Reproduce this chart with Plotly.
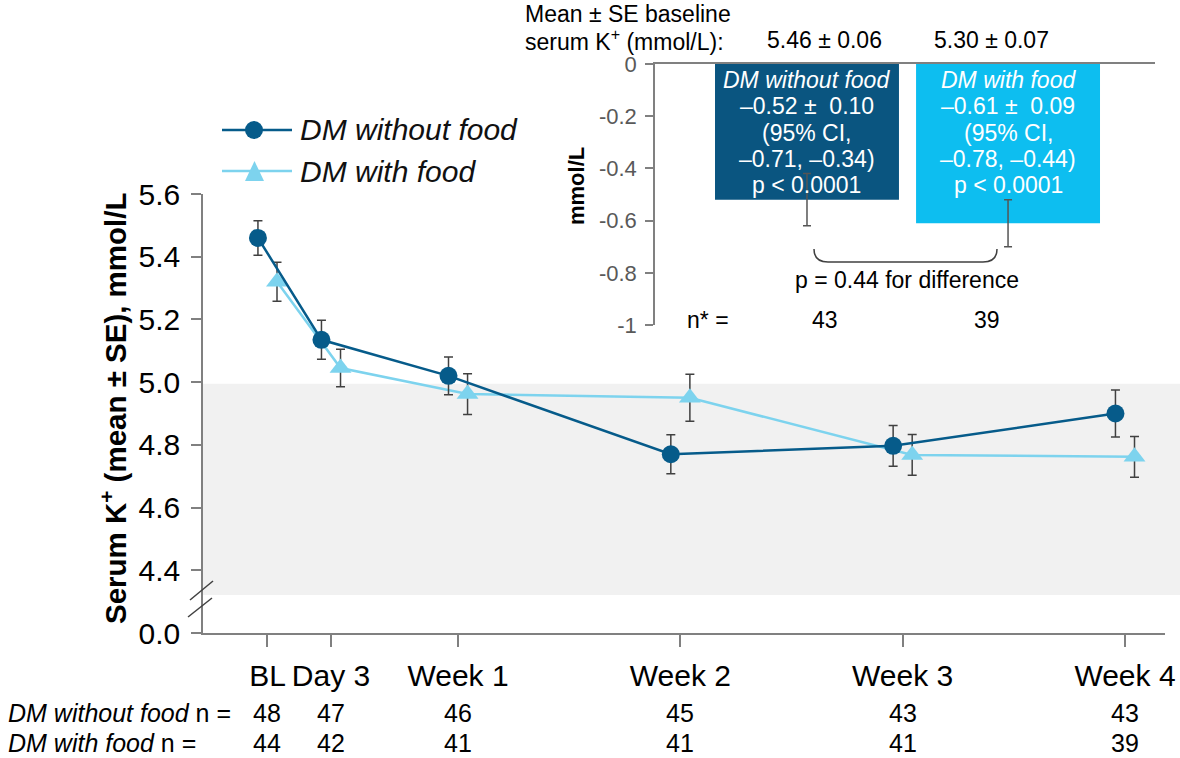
import plotly.graph_objects as go

# ---------------- data ----------------
visits = ["BL", "Day 3", "Week 1", "Week 2", "Week 3", "Week 4"]
visit_day = [1, 3, 7, 14, 21, 28]

without_food_mean = [5.46, 5.135, 5.02, 4.77, 4.797, 4.90]
without_food_se = [0.055, 0.062, 0.06, 0.062, 0.065, 0.075]
with_food_mean = [5.32, 5.045, 4.962, 4.95, 4.768, 4.762]
with_food_se = [0.062, 0.06, 0.065, 0.075, 0.065, 0.065]

n_without_food = [48, 47, 46, 45, 43, 43]
n_with_food = [44, 42, 41, 41, 41, 39]

groups = ["DM without food", "DM with food"]
baseline_mean = [5.46, 5.30]
baseline_se = [0.06, 0.07]
change_mean = [-0.52, -0.61]
change_se = [0.10, 0.09]
change_ci = [(-0.71, -0.34), (-0.78, -0.44)]
change_p = ["p &lt; 0.0001", "p &lt; 0.0001"]
n_final = [43, 39]
p_diff = 0.44

main_ticks = [4.2, 4.4, 4.6, 4.8, 5.0, 5.2, 5.4, 5.6]
main_ticktext = ["0.0", "4.4", "4.6", "4.8", "5.0", "5.2", "5.4", "5.6"]
inset_ticks = [0, -0.2, -0.4, -0.6, -0.8, -1]
inset_ticktext = ["0", "-0.2", "-0.4", "-0.6", "-0.8", "-1"]

# ---------------- style ----------------
W, H = 1180, 758
DARK = "#065B8A"
LIGHT = "#7DD3EE"
BAR_DARK = "#0A5580"
BAR_LIGHT = "#0DBEF0"
AXC = "#808080"
ERRC = "#404040"
FONT = "Liberation Sans, Arial, sans-serif"
DODGE = 0.3
MF = 30   # main font
IF = 23   # inset font
NF = 25   # n-table font


def px(X):
    return X / W


def py(Y):
    return 1 - Y / H


fig = go.Figure()

# main line traces
fig.add_trace(go.Scatter(
    x=[d + DODGE for d in visit_day], y=with_food_mean,
    error_y=dict(type="data", array=with_food_se, color=ERRC, thickness=1.5, width=4.5),
    mode="lines+markers", name=groups[1],
    line=dict(color=LIGHT, width=2.5),
    marker=dict(symbol="triangle-up", size=19, color=LIGHT),
    xaxis="x", yaxis="y", showlegend=False))
fig.add_trace(go.Scatter(
    x=[d - DODGE for d in visit_day], y=without_food_mean,
    error_y=dict(type="data", array=without_food_se, color=ERRC, thickness=1.5, width=4.5),
    mode="lines+markers", name=groups[0],
    line=dict(color=DARK, width=2.5),
    marker=dict(symbol="circle", size=18, color=DARK),
    xaxis="x", yaxis="y", showlegend=False))

# inset bars
fig.add_trace(go.Bar(
    x=[0, 1], y=change_mean, width=0.915,
    marker=dict(color=[BAR_DARK, BAR_LIGHT], line=dict(width=0)),
    error_y=dict(type="data", array=change_se, color="#555555", thickness=1.5, width=4),
    xaxis="x2", yaxis="y2", showlegend=False))

shapes = []
annotations = []

# shaded normal range band
shapes.append(dict(type="rect", xref="paper", yref="y", x0=px(203), x1=1.0,
                   y0=4.321, y1=4.995, fillcolor="#F1F1F1", line=dict(width=0), layer="below"))
# axis break marks
for (x0, y0, x1, y1) in [(190, 600, 213, 581), (188, 617, 212, 598)]:
    shapes.append(dict(type="line", xref="paper", yref="paper", x0=px(x0), y0=py(y0),
                       x1=px(x1), y1=py(y1), line=dict(color=ERRC, width=1.5)))

# manual legend
for i, (col, sym, yy) in enumerate([(DARK, "circle", 130), (LIGHT, "tri", 171)]):
    shapes.append(dict(type="line", xref="paper", yref="paper", x0=px(222), x1=px(292),
                       y0=py(yy), y1=py(yy), line=dict(color=col, width=2.5)))
    if sym == "circle":
        shapes.append(dict(type="circle", xref="paper", yref="paper", x0=px(245), x1=px(263),
                           y0=py(yy + 9), y1=py(yy - 9), fillcolor=col, line=dict(width=0)))
    else:
        path = "M {} {} L {} {} L {} {} Z".format(px(245), py(yy + 10), px(264), py(yy + 10), px(254.5), py(yy - 10))
        shapes.append(dict(type="path", xref="paper", yref="paper", path=path,
                           fillcolor=col, line=dict(width=0)))
    annotations.append(dict(xref="paper", yref="paper", x=px(298), y=py(yy), xanchor="left",
                            yanchor="middle", text="<i>" + groups[i] + "</i>", showarrow=False,
                            font=dict(size=MF, color="#111111", family=FONT)))

# y axis title of main chart
annotations.append(dict(xref="paper", yref="paper", x=px(113), y=py(408), textangle=-90,
                        text="<b>Serum K<sup>+</sup> (mean ± SE), mmol/L</b>", showarrow=False,
                        xanchor="center", yanchor="middle", font=dict(size=29.5, color="#000", family=FONT)))

# n table
for row, (lab, vals) in enumerate([(groups[0], n_without_food), (groups[1], n_with_food)]):
    yy = 713 + 30 * row
    annotations.append(dict(xref="paper", yref="paper", x=px(6), y=py(yy), xanchor="left", yanchor="middle",
                            text="<i>" + lab + "</i> n =", showarrow=False,
                            font=dict(size=NF, color="#000", family=FONT)))
    for d, v in zip(visit_day, vals):
        annotations.append(dict(xref="x", yref="paper", x=d, y=py(yy), text=str(v), showarrow=False,
                                xanchor="center", yanchor="middle", font=dict(size=NF, color="#000", family=FONT)))

# inset header
annotations.append(dict(xref="paper", yref="paper", x=px(523), y=py(14), xanchor="left", yanchor="middle",
                        text="Mean ± SE baseline", showarrow=False, font=dict(size=IF, color="#000", family=FONT)))
annotations.append(dict(xref="paper", yref="paper", x=px(523), y=py(40), xanchor="left", yanchor="middle",
                        text="serum K<sup>+</sup> (mmol/L):", showarrow=False,
                        font=dict(size=IF, color="#000", family=FONT)))
for xx, m, s in zip([824, 991], baseline_mean, baseline_se):
    annotations.append(dict(xref="paper", yref="paper", x=px(xx), y=py(40), xanchor="center", yanchor="middle",
                            text="{:.2f} ± {:.2f}".format(m, s), showarrow=False,
                            font=dict(size=IF, color="#000", family=FONT)))

# bar labels
for i in range(2):
    lines = ["<i>" + groups[i] + "</i>",
             "–{:.2f} ±  {:.2f}".format(-change_mean[i], change_se[i]),
             "(95% CI,",
             "–{:.2f}, –{:.2f})".format(-change_ci[i][0], -change_ci[i][1]),
             change_p[i]]
    for k, t in enumerate(lines):
        annotations.append(dict(xref="x2", yref="paper", x=i, y=py(80 + 26.3 * k), text=t, showarrow=False,
                                xanchor="center", yanchor="middle",
                                font=dict(size=IF, color="#FFFFFF", family=FONT)))

# inset y title
annotations.append(dict(xref="paper", yref="paper", x=px(576), y=py(186), textangle=-90, text="<b>mmol/L</b>",
                        showarrow=False, xanchor="center", yanchor="middle",
                        font=dict(size=22, color="#000", family=FONT)))

# bracket + p for difference
bpath = ("M {a} {b} Q {a} {c} {d} {c} L {e} {c} Q {f} {c} {f} {b}").format(
    a=px(814), b=py(249), c=py(262), d=px(828), e=px(983), f=px(997))
shapes.append(dict(type="path", xref="paper", yref="paper", path=bpath, line=dict(color=ERRC, width=1.5)))
annotations.append(dict(xref="paper", yref="paper", x=px(907), y=py(280), text="p = {:.2f} for difference".format(p_diff),
                        showarrow=False, xanchor="center", yanchor="middle",
                        font=dict(size=IF, color="#000", family=FONT)))
annotations.append(dict(xref="paper", yref="paper", x=px(708), y=py(320), text="n* =",
                        showarrow=False, xanchor="center", yanchor="middle",
                        font=dict(size=IF, color="#000", family=FONT)))
for xx, n in zip([825, 987], n_final):
    annotations.append(dict(xref="paper", yref="paper", x=px(xx), y=py(320), text=str(n),
                            showarrow=False, xanchor="center", yanchor="middle",
                            font=dict(size=IF, color="#000", family=FONT)))

fig.update_layout(
    width=W, height=H, margin=dict(l=0, r=0, t=0, b=0, pad=0, autoexpand=False),
    paper_bgcolor="white", plot_bgcolor="rgba(0,0,0,0)",
    font=dict(family=FONT, color="#000"),
    shapes=shapes, annotations=annotations,
    xaxis=dict(domain=[px(203), px(1165)], range=[-1.03, 29.26], anchor="y", automargin=False,
               tickvals=visit_day, ticktext=visits, tickangle=0,
               ticks="outside", ticklen=12, tickcolor=AXC, tickwidth=1.5,
               showline=True, linecolor=AXC, linewidth=1.5, showgrid=False, zeroline=False,
               tickfont=dict(size=MF, color="#000", family=FONT), ticklabelstandoff=3),
    yaxis=dict(domain=[py(633), py(194)], range=[4.2, 5.6], anchor="x", automargin=False,
               tickvals=main_ticks, ticktext=main_ticktext,
               ticks="outside", ticklen=10, tickcolor=AXC, tickwidth=1.5,
               showline=True, linecolor=AXC, linewidth=1.5, showgrid=False, zeroline=False,
               tickfont=dict(size=MF, color="#000", family=FONT), ticklabelstandoff=5),
    xaxis2=dict(domain=[px(655), px(1155)], range=[-0.756, 1.731], anchor="y2", side="top", automargin=False,
                showline=True, linecolor=AXC, linewidth=1.5, showticklabels=False, ticks="",
                showgrid=False, zeroline=False),
    yaxis2=dict(domain=[py(325), py(64)], range=[-1, 0], anchor="x2", automargin=False,
                tickvals=inset_ticks, ticktext=inset_ticktext,
                ticks="outside", ticklen=8, tickcolor=AXC, tickwidth=1.5,
                showline=True, linecolor=AXC, linewidth=1.5, showgrid=False, zeroline=False,
                tickfont=dict(size=22, color="#595959", family=FONT), ticklabelstandoff=4),
)

fig.write_html("out.html", config={"displayModeBar": False},
               post_script="document.body.style.margin='0';")
